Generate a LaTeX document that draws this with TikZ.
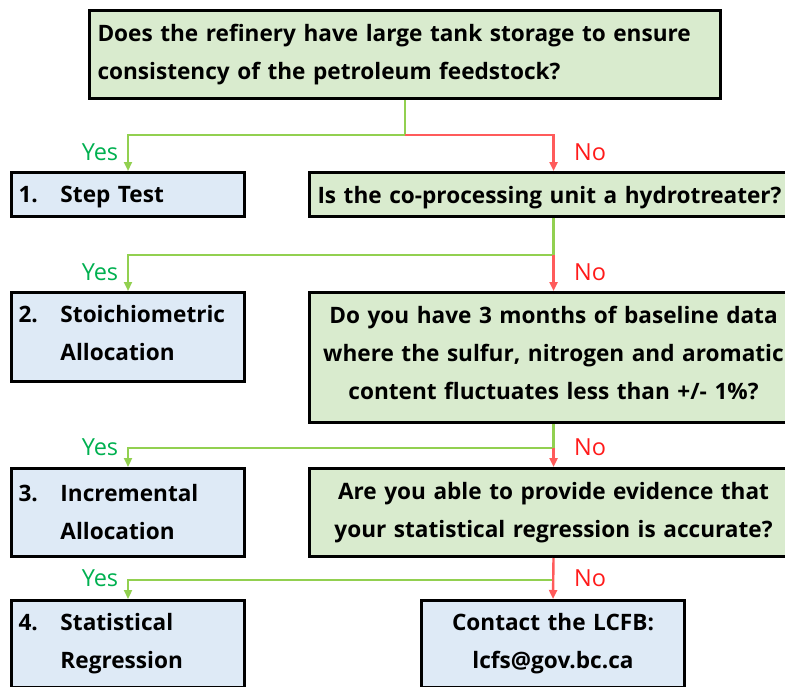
\documentclass[tikz,border=0pt]{standalone}
\usepackage{fontspec}
\setmainfont{Open Sans}
\usetikzlibrary{arrows.meta,calc}
\definecolor{qfill}{HTML}{D9EBCE}
\definecolor{afill}{HTML}{DEEAF6}
\definecolor{gline}{HTML}{92D050}
\definecolor{rline}{HTML}{FF5B5B}
\definecolor{yestext}{HTML}{00B050}
\definecolor{notext}{HTML}{FF1A1A}
\begin{document}
\begin{tikzpicture}[x=1pt,y=-1pt,
  box/.style={draw=black,line width=3pt,anchor=north west,inner sep=0pt,
    font=\bfseries\fontsize{22.6}{38}\selectfont},
  qbox/.style={box,fill=qfill},
  abox/.style={box,fill=afill},
  btext/.style={inner sep=0pt,font=\bfseries\fontsize{22.6}{38}\selectfont},
  glink/.style={draw=gline,line width=2.4pt},
  rlink/.style={draw=rline,line width=2.4pt},
  tip/.style={-{Triangle[length=9pt,width=8pt]}},
  yeslab/.style={text=yestext,font=\fontsize{23.5}{26}\selectfont},
  nolab/.style={text=notext,font=\fontsize{23.5}{26}\selectfont}
]
\useasboundingbox (0,0) rectangle (785,686);
\clip (0,0) rectangle (785,686);
% boxes
\node[qbox,minimum width=631pt,minimum height=88pt,text width=615pt,align=left] (q1) at (88,9)
  {Does the refinery have large tank storage to ensure\\consistency of the petroleum feedstock?};
\node[qbox,minimum width=488pt,minimum height=44pt] (q2) at (308,171) {};
\node[btext,text width=472pt,align=left] (q2t) at ($(q2.center)+(0,3)$)
  {Is the co-processing unit a hydrotreater?};
\node[qbox,minimum width=488pt,minimum height=130pt] (q3) at (308,291) {};
\node[btext,text width=472pt,align=center] (q3t) at ($(q3.center)+(0,-5)$)
  {Do you have 3 months of baseline data\\where the sulfur, nitrogen and aromatic\\content fluctuates less than +/- 1\%?};
\node[qbox,minimum width=488pt,minimum height=88pt,text width=472pt,align=center] (q4) at (308,467)
  {Are you able to provide evidence that\\your statistical regression is accurate?};
\node[abox,minimum width=263pt,minimum height=87pt,text width=247pt,align=center] (c) at (420,599)
  {Contact the LCFB:\\lcfs@gov.bc.ca};
\node[abox,minimum width=233pt,minimum height=44pt] (s1) at (10,171) {};
\node[btext,text width=219pt,align=left] (s1t) at ($(s1.center)+(0,3)$)
  {\makebox[42pt][l]{1.}Step Test};
\node[abox,minimum width=233pt,minimum height=89pt] (s2) at (10,291) {};
\node[btext,text width=219pt,align=left] (s2t) at ($(s2.center)+(0,-4)$)
  {\makebox[42pt][l]{2.}Stoichiometric\\\hspace*{42pt}Allocation};
\node[abox,minimum width=233pt,minimum height=88pt,text width=219pt,align=left] (s3) at (10,467)
  {\makebox[42pt][l]{3.}Incremental\\\hspace*{42pt}Allocation};
\node[abox,minimum width=233pt,minimum height=87pt,text width=219pt,align=left] (s4) at (10,599)
  {\makebox[42pt][l]{4.}Statistical\\\hspace*{42pt}Regression};
% junctions
\path (q1.south) ++(0,35) coordinate (j1);
\path (q2.south) ++(0,37) coordinate (j2);
\path (q3.south) ++(0,24) coordinate (j3);
\path (q4.south) ++(0,22) coordinate (j4);
% connectors
\draw[glink] (q1.south) -- (j1);
\draw[glink,tip] (j1) -| (s1.north);
\draw[rlink,tip] (j1) -| (q2.north);
\draw[glink] (q2.south) -- (j2);
\draw[glink,tip] (j2) -| (s2.north);
\draw[rlink,tip] (j2) -- (q3.north);
\draw[glink] (q3.south) -- (j3);
\draw[glink,tip] (j3) -| (s3.north);
\draw[rlink,tip] (j3) -- (q4.north);
\draw[glink,tip] (j4) -| (s4.north);
\draw[rlink,tip] (q4.south) -- (c.north);
% labels
\node[yeslab] (y1) at (100,152) {Yes};
\node[nolab] (n1) at (590,152) {No};
\node[yeslab] (y2) at (100,272) {Yes};
\node[nolab] (n2) at (590,272) {No};
\node[yeslab] (y3) at (100,447) {Yes};
\node[nolab] (n3) at (590,447) {No};
\node[yeslab] (y4) at (100,578) {Yes};
\node[nolab] (n4) at (590,578) {No};
\end{tikzpicture}
\end{document}
